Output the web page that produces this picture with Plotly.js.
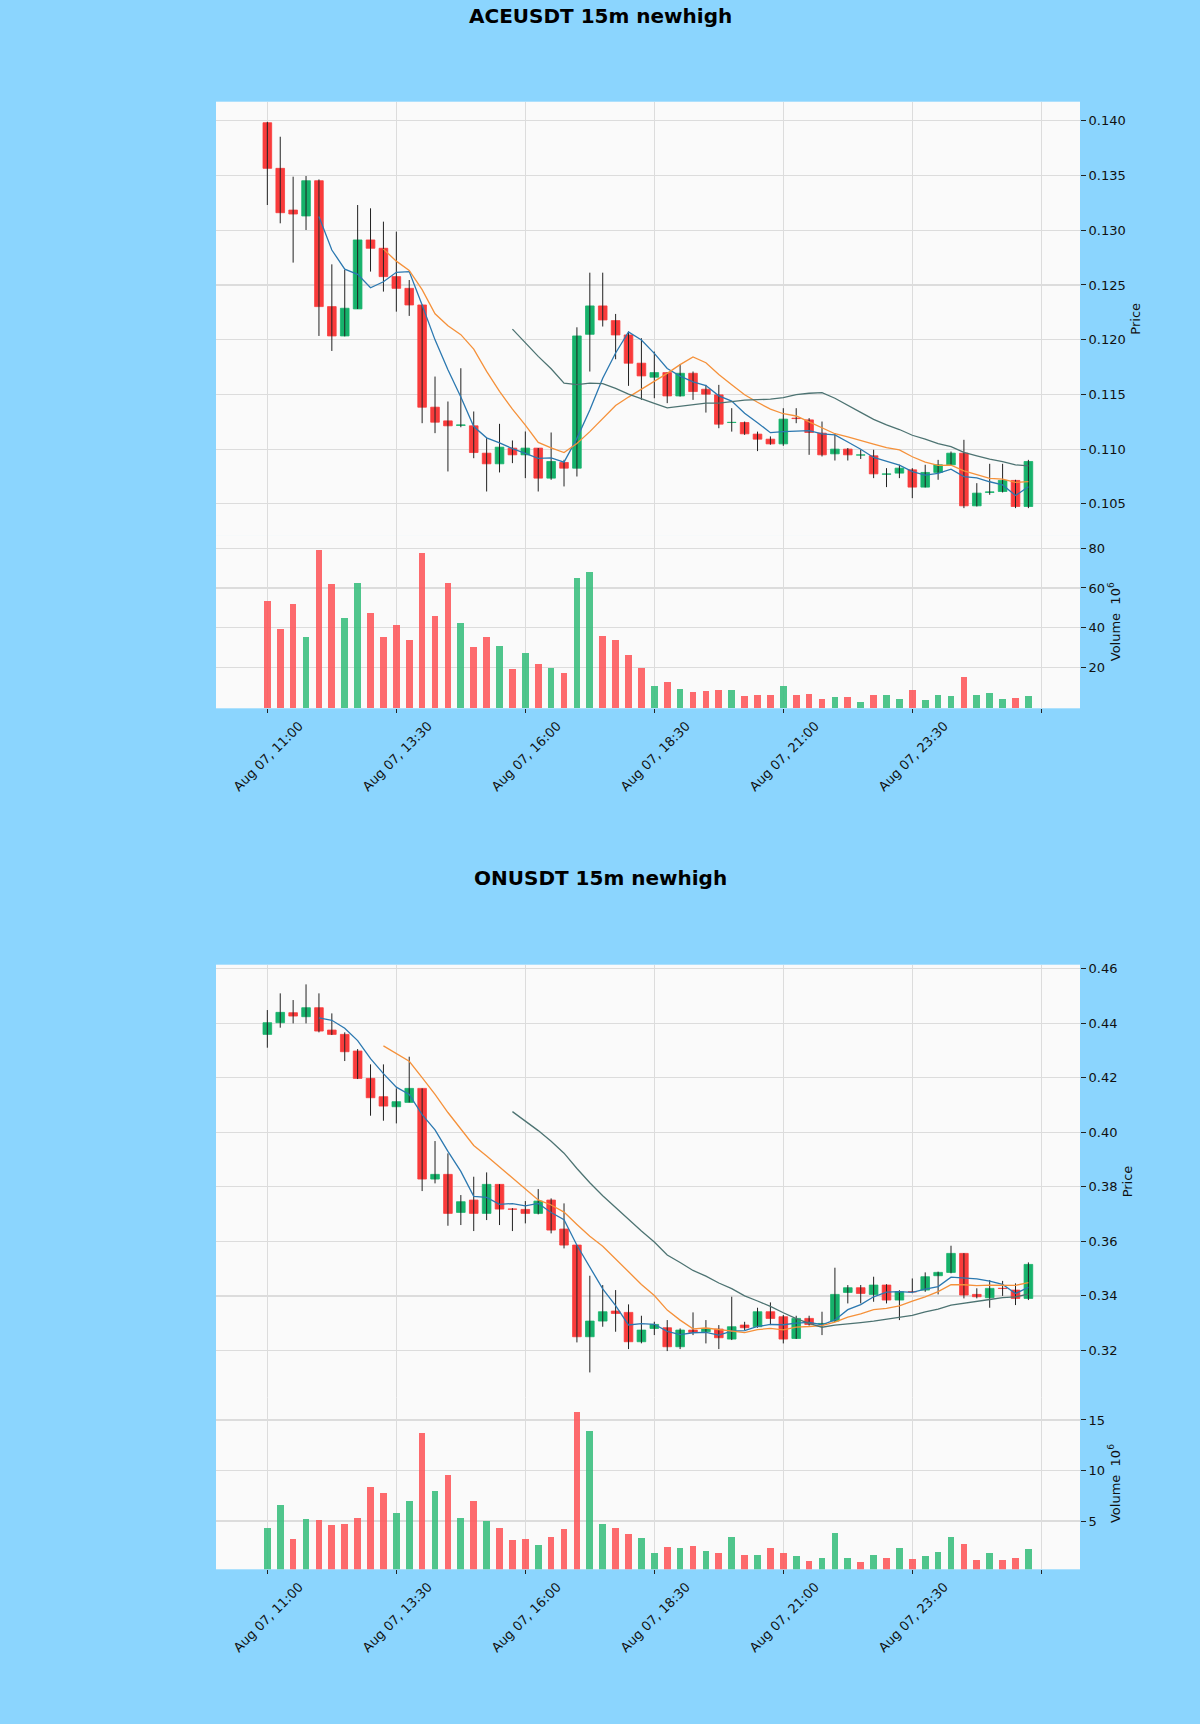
<!DOCTYPE html>
<html>
<head>
<meta charset="utf-8">
<script src="https://cdn.plot.ly/plotly-3.0.1.min.js"></script>
<style>
  html, body { margin: 0; padding: 0; background: #8BD5FE; }
  #chart { width: 1200px; height: 1724px; }
</style>
</head>
<body>
<div id="chart"></div>
<script>
// ---------- Data ----------
const tickLabels = ["Aug 07, 11:00", "Aug 07, 13:30", "Aug 07, 16:00", "Aug 07, 18:30", "Aug 07, 21:00", "Aug 07, 23:30"];

// ACEUSDT 15m
const aceOpen  = [0.13982,0.13565,0.13184,0.13130,0.13452,0.12302,0.12034,0.12281,0.12911,0.12835,
                  0.12576,0.12469,0.12317,0.11383,0.11258,0.11216,0.11213,0.10963,0.10866,0.11009,
                  0.10948,0.11009,0.10735,0.10878,0.10826,0.12049,0.12308,0.12174,0.12043,0.11785,
                  0.11657,0.11699,0.11486,0.11693,0.11547,0.11496,0.11243,0.11243,0.11137,0.11091,
                  0.11048,0.11283,0.11267,0.11146,0.10957,0.11000,0.10945,0.10939,0.10770,0.10781,
                  0.10811,0.10653,0.10787,0.10857,0.10963,0.10482,0.10604,0.10613,0.10714,0.10476];
const aceHigh  = [0.13990,0.13854,0.13489,0.13495,0.13464,0.12688,0.12637,0.13230,0.13200,0.13078,
                  0.12987,0.12545,0.12320,0.11663,0.11435,0.11739,0.11344,0.11100,0.11231,0.11079,
                  0.11161,0.11010,0.11152,0.10902,0.12113,0.12612,0.12612,0.12235,0.12074,0.12013,
                  0.11891,0.11700,0.11778,0.11709,0.11587,0.11587,0.11374,0.11252,0.11160,0.11116,
                  0.11374,0.11374,0.11283,0.11252,0.11146,0.11010,0.10994,0.10994,0.10826,0.10857,
                  0.10826,0.10857,0.10902,0.10978,0.11085,0.10689,0.10866,0.10866,0.10720,0.10902];
const aceLow   = [0.13230,0.13063,0.12704,0.13002,0.12034,0.11897,0.12030,0.12280,0.12622,0.12439,
                  0.12256,0.12217,0.11237,0.11146,0.10796,0.11200,0.10917,0.10613,0.10787,0.10872,
                  0.10735,0.10613,0.10720,0.10659,0.10750,0.11709,0.12120,0.11821,0.11578,0.11450,
                  0.11465,0.11420,0.11480,0.11450,0.11334,0.11191,0.11160,0.11130,0.10982,0.11040,
                  0.11030,0.11237,0.10948,0.10933,0.10896,0.10896,0.10910,0.10735,0.10653,0.10735,
                  0.10552,0.10650,0.10720,0.10847,0.10461,0.10476,0.10583,0.10604,0.10461,0.10461];
const aceClose = [0.13565,0.13160,0.13148,0.13452,0.12302,0.12034,0.12287,0.12911,0.12835,0.12576,
                  0.12469,0.12317,0.11383,0.11246,0.11213,0.11222,0.10969,0.10866,0.11018,0.10948,
                  0.11009,0.10735,0.10887,0.10826,0.12034,0.12308,0.12180,0.12043,0.11785,0.11669,
                  0.11699,0.11486,0.11693,0.11526,0.11502,0.11228,0.11245,0.11140,0.11091,0.11048,
                  0.11274,0.11279,0.11152,0.10948,0.11000,0.10948,0.10948,0.10774,0.10774,0.10826,
                  0.10653,0.10787,0.10857,0.10963,0.10482,0.10598,0.10610,0.10714,0.10476,0.10887];
const aceVolume = [53.4,39.2,51.8,35.5,79.1,61.8,44.7,62.6,47.2,35.2,
                   41.4,33.8,77.4,45.9,62.3,42.5,30.2,35.2,30.8,19.1,
                   27.5,21.8,19.9,17.1,64.8,67.8,35.8,33.8,26.6,19.9,
                   10.7,12.6,9.5,7.7,8.5,8.7,9.0,5.7,6.2,6.2,
                   10.7,6.2,7.0,4.5,5.4,5.4,2.7,6.5,6.2,4.5,
                   8.7,4.0,6.2,5.9,15.1,6.5,7.5,4.5,5.0,6.0];

// ONUSDT 15m
const onOpen  = [0.43596,0.44024,0.44391,0.44245,0.44575,0.43755,0.43596,0.42985,0.41982,0.41309,
                 0.40942,0.41101,0.41615,0.38288,0.38459,0.37064,0.37517,0.37028,0.38092,0.37190,
                 0.37174,0.37028,0.37517,0.36453,0.35866,0.32502,0.33077,0.33444,0.33395,0.32318,
                 0.32807,0.32832,0.32135,0.32746,0.32685,0.32783,0.32416,0.32930,0.32869,0.33419,
                 0.33236,0.32440,0.33175,0.32980,0.33077,0.34129,0.34300,0.34055,0.34398,0.33848,
                 0.34155,0.34214,0.34741,0.34863,0.35560,0.34055,0.33933,0.34280,0.34214,0.33909];
const onHigh  = [0.44489,0.45101,0.44856,0.45431,0.45101,0.44367,0.43670,0.43058,0.42495,0.42495,
                 0.41615,0.42777,0.41615,0.39682,0.39230,0.37701,0.38373,0.38532,0.38100,0.37220,
                 0.37480,0.37920,0.37578,0.37395,0.35870,0.34740,0.34398,0.34214,0.33689,0.33272,
                 0.33052,0.33113,0.32807,0.33395,0.33113,0.32930,0.33970,0.33050,0.33566,0.33762,
                 0.33300,0.33272,0.33272,0.33419,0.35034,0.34398,0.34400,0.34704,0.34430,0.34210,
                 0.34640,0.34863,0.34890,0.35841,0.35570,0.34280,0.34582,0.34550,0.34459,0.35230];
const onLow   = [0.43107,0.43841,0.44000,0.44000,0.43670,0.43572,0.42618,0.41957,0.40612,0.40428,
                 0.40330,0.41100,0.37847,0.38129,0.36575,0.36600,0.36380,0.36783,0.36600,0.36380,
                 0.36661,0.36991,0.36294,0.35743,0.32294,0.31193,0.32869,0.32685,0.32049,0.32260,
                 0.32563,0.31976,0.32049,0.32563,0.32257,0.32049,0.32380,0.32750,0.32832,0.32930,
                 0.32257,0.32420,0.32910,0.32563,0.33050,0.33725,0.33725,0.33786,0.33725,0.33113,
                 0.34100,0.34150,0.34055,0.34830,0.33909,0.33910,0.33566,0.34000,0.33664,0.33848];
const onClose = [0.44024,0.44404,0.44269,0.44575,0.43719,0.43596,0.42960,0.41982,0.41272,0.40966,
                 0.41126,0.41615,0.38288,0.38459,0.37028,0.37456,0.37028,0.38092,0.37187,0.37180,
                 0.37028,0.37480,0.36416,0.35866,0.32502,0.33077,0.33419,0.33358,0.32318,0.32746,
                 0.32954,0.32135,0.32746,0.32661,0.32807,0.32465,0.32869,0.32832,0.33419,0.33175,
                 0.32416,0.33175,0.32954,0.32990,0.34055,0.34300,0.34092,0.34398,0.33848,0.34153,
                 0.34150,0.34704,0.34863,0.35560,0.34031,0.33970,0.34276,0.34270,0.33909,0.35156];
const onVolume = [4.34,6.58,3.22,5.20,5.10,4.60,4.70,5.26,8.33,7.80,
                  5.83,7.01,13.68,7.97,9.55,5.26,6.98,5.00,4.34,3.12,
                  3.22,2.62,3.38,4.21,15.76,13.90,4.70,4.34,3.71,3.28,
                  1.80,2.46,2.29,2.56,2.03,1.80,3.38,1.63,1.63,2.29,
                  1.80,1.53,1.04,1.30,3.84,1.37,0.91,1.63,1.30,2.29,
                  1.24,1.57,1.90,3.38,2.69,1.14,1.80,1.14,1.30,2.19];

// ---------- Styling ----------
const UP = '#16b26b', DOWN = '#f93b3b';
const VUP = '#3cbf80', VDOWN = '#fd5a5e';
const MA_COLORS = ['#2b78b0', '#f5913a', '#4d7372'];
const MA_WINDOWS = [5, 10, 20];
const FONT = 'DejaVu Sans, Verdana, sans-serif';
const GRID = '#dcdcdc';

function movingAverage(arr, n) {
  return arr.map((_, i) => {
    if (i < n - 1) return null;
    let s = 0;
    for (let k = i - n + 1; k <= i; k++) s += arr[k];
    return s / n;
  });
}

function buildTraces(o, h, l, c, v, xa, ya, xv, yv) {
  const idx = c.map((_, i) => i);
  const wx = [], wy = [];
  idx.forEach(i => { wx.push(i, i, null); wy.push(l[i], h[i], null); });
  const up = idx.map(i => c[i] >= o[i]);
  const traces = [];
  traces.push({
    type: 'scatter', mode: 'lines', x: wx, y: wy, xaxis: xa, yaxis: ya,
    line: { color: '#222222', width: 1 }, hoverinfo: 'skip', showlegend: false
  });
  traces.push({
    type: 'bar', x: idx, base: idx.map(i => Math.min(o[i], c[i])),
    y: idx.map(i => Math.abs(c[i] - o[i])),
    xaxis: xa, yaxis: ya, width: 0.67,
    marker: { color: idx.map(i => up[i] ? UP : DOWN),
              line: { color: idx.map(i => up[i] ? UP : DOWN), width: 0.8 } },
    showlegend: false, hoverinfo: 'skip'
  });
  MA_WINDOWS.forEach((n, k) => {
    traces.push({
      type: 'scatter', mode: 'lines', x: idx, y: movingAverage(c, n),
      xaxis: xa, yaxis: ya, line: { color: MA_COLORS[k], width: 1.3 },
      showlegend: false, hoverinfo: 'skip'
    });
  });
  traces.push({
    type: 'bar', x: idx, y: v, xaxis: xv, yaxis: yv, width: 0.52,
    marker: { color: idx.map(i => up[i] ? VUP : VDOWN) }, opacity: 0.9,
    showlegend: false, hoverinfo: 'skip'
  });
  return traces;
}

const data = [].concat(
  buildTraces(aceOpen, aceHigh, aceLow, aceClose, aceVolume, 'x', 'y', 'x2', 'y2'),
  buildTraces(onOpen, onHigh, onLow, onClose, onVolume, 'x3', 'y3', 'x4', 'y4')
);

const tickPos = tickLabels.map((_, k) => k * 10);
const lastTick = [tickLabels.length * 10];   // unlabeled tick after the last candle
const XR = [-3.98, 63.0];
const XD = [0.18, 0.9];
const tickFont = { family: FONT, size: 13, color: '#111111' };

function priceX(anchor) {
  return { domain: XD, anchor: anchor, range: XR, tickvals: tickPos, showticklabels: false,
           showgrid: true, gridcolor: GRID, gridwidth: 1.2, zeroline: false, ticks: '', fixedrange: true,
           minor: { tickvals: lastTick, showgrid: true, gridcolor: GRID, gridwidth: 1.2, ticks: '' } };
}
function volX(anchor, match) {
  return { domain: XD, anchor: anchor, range: XR, matches: match, tickvals: tickPos, ticktext: tickLabels,
           tickangle: -45, tickfont: tickFont, ticklabelshift: 32, showgrid: true, gridcolor: GRID, gridwidth: 1.2,
           zeroline: false, ticks: 'outside', ticklen: 4, tickcolor: '#222', fixedrange: true,
           minor: { tickvals: lastTick, showgrid: true, gridcolor: GRID, gridwidth: 1.2,
                    ticks: 'outside', ticklen: 4, tickcolor: '#222' } };
}
function yAx(anchor, domain, range, tickvals, fmt, title) {
  return { domain: domain, anchor: anchor, side: 'right', range: range, tickvals: tickvals,
           tickformat: fmt, tickfont: tickFont, showgrid: true, gridcolor: GRID, gridwidth: 1.2,
           zeroline: false, ticks: 'outside', ticklen: 5, tickcolor: '#222',
           title: { text: title, font: { family: FONT, size: 13, color: '#111111' }, standoff: 6 },
           fixedrange: true };
}

const layout = {
  width: 1200, height: 1724,
  margin: { l: 0, r: 0, t: 0, b: 0 },
  paper_bgcolor: '#8BD5FE', plot_bgcolor: '#fafafa',
  font: { family: FONT, size: 13, color: '#111111' },
  barmode: 'overlay', bargap: 0,
  showlegend: false,
  xaxis: priceX('y'),
  xaxis2: volX('y2', 'x'),
  xaxis3: priceX('y3'),
  xaxis4: volX('y4', 'x3'),
  yaxis:  yAx('x',  [0.68920, 0.94101], [0.10208, 0.14174], [0.105,0.110,0.115,0.120,0.125,0.130,0.135,0.140], '.3f', 'Price'),
  yaxis2: yAx('x2', [0.58915, 0.68955], [-0.4, 86.5], [20,40,60,80], 'd', 'Volume  10<sup>6</sup>'),
  yaxis3: yAx('x3', [0.18895, 0.44043], [0.30245, 0.46153], [0.32,0.34,0.36,0.38,0.40,0.42,0.44,0.46], '.2f', 'Price'),
  yaxis4: yAx('x4', [0.08973, 0.18925], [0.22, 17.2], [5,10,15], 'd', 'Volume  10<sup>6</sup>'),
  annotations: [
    { text: '<b>ACEUSDT 15m newhigh</b>', xref: 'paper', yref: 'paper', x: 0.5, y: 1 - 16 / 1724,
      xanchor: 'center', yanchor: 'middle', showarrow: false, font: { family: FONT, size: 20, color: '#000' } },
    { text: '<b>ONUSDT 15m newhigh</b>', xref: 'paper', yref: 'paper', x: 0.5, y: 1 - 878 / 1724,
      xanchor: 'center', yanchor: 'middle', showarrow: false, font: { family: FONT, size: 20, color: '#000' } }
  ]
};

Plotly.newPlot('chart', data, layout, { staticPlot: true, displayModeBar: false });
</script>
</body>
</html>
